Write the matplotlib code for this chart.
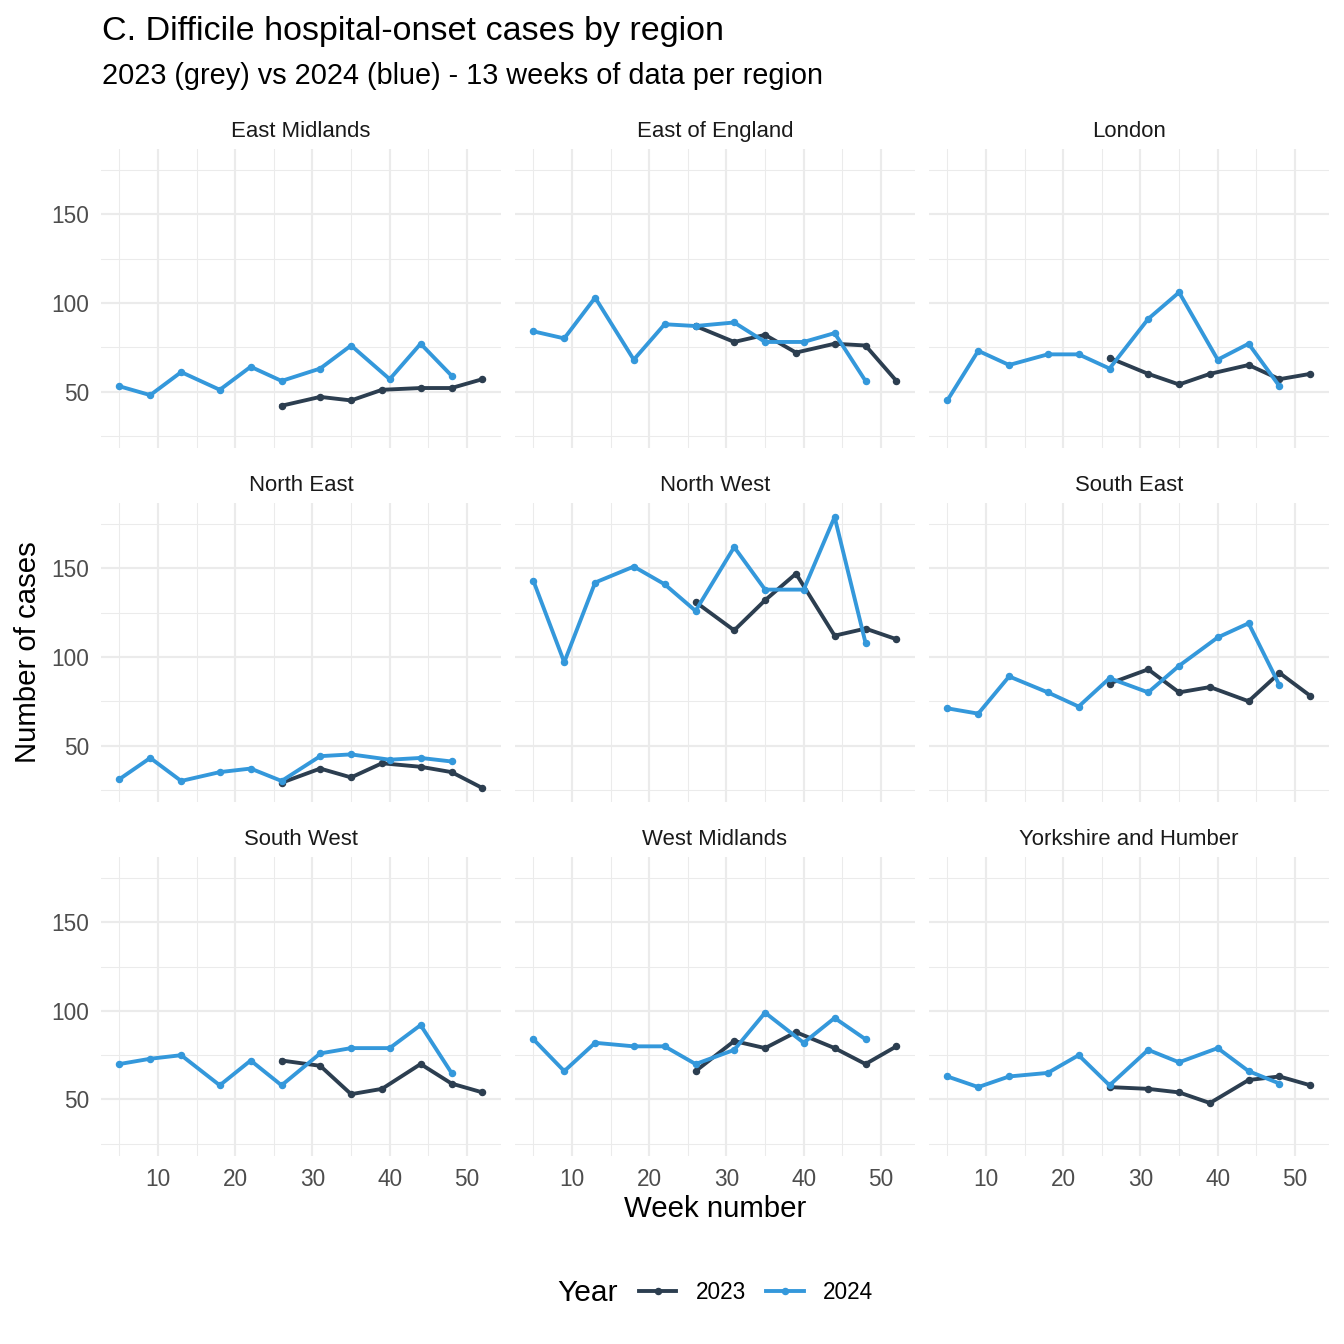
import pandas as pd
import numpy as np
import matplotlib
matplotlib.use("Agg")
import matplotlib.pyplot as plt
from matplotlib.ticker import MultipleLocator
from matplotlib.lines import Line2D

regions = ["East Midlands", "East of England", "London",
           "North East", "North West", "South East",
           "South West", "West Midlands", "Yorkshire and Humber"]

weeks_2024 = [5, 9, 13, 18, 22, 26, 31, 35, 40, 44, 48]
weeks_2023 = [26, 31, 35, 39, 44, 48, 52]

east_midlands_2024 = [53, 48, 61, 51, 64, 56, 63, 76, 57, 77, 59]
east_midlands_2023 = [42, 47, 45, 51, 52, 52, 57]
east_england_2024 = [84, 80, 103, 68, 88, 87, 89, 78, 78, 83, 56]
east_england_2023 = [87, 78, 82, 72, 77, 76, 56]
london_2024 = [45, 73, 65, 71, 71, 63, 91, 106, 68, 77, 53]
london_2023 = [69, 60, 54, 60, 65, 57, 60]
north_east_2024 = [31, 43, 30, 35, 37, 30, 44, 45, 42, 43, 41]
north_east_2023 = [29, 37, 32, 40, 38, 35, 26]
north_west_2024 = [143, 97, 142, 151, 141, 126, 162, 138, 138, 179, 108]
north_west_2023 = [131, 115, 132, 147, 112, 116, 110]
south_east_2024 = [71, 68, 89, 80, 72, 88, 80, 95, 111, 119, 84]
south_east_2023 = [85, 93, 80, 83, 75, 91, 78]
south_west_2024 = [70, 73, 75, 58, 72, 58, 76, 79, 79, 92, 65]
south_west_2023 = [72, 69, 53, 56, 70, 59, 54]
west_midlands_2024 = [84, 66, 82, 80, 80, 70, 78, 99, 82, 96, 84]
west_midlands_2023 = [66, 83, 79, 88, 79, 70, 80]
yorkshire_2024 = [63, 57, 63, 65, 75, 58, 78, 71, 79, 66, 59]
yorkshire_2023 = [57, 56, 54, 48, 61, 63, 58]

series_2024 = [east_midlands_2024, east_england_2024, london_2024,
               north_east_2024, north_west_2024, south_east_2024,
               south_west_2024, west_midlands_2024, yorkshire_2024]
series_2023 = [east_midlands_2023, east_england_2023, london_2023,
               north_east_2023, north_west_2023, south_east_2023,
               south_west_2023, west_midlands_2023, yorkshire_2023]

rows = []
for region, v23, v24 in zip(regions, series_2023, series_2024):
    for w, v in zip(weeks_2023, v23):
        rows.append((region, 2023, w, v))
    for w, v in zip(weeks_2024, v24):
        rows.append((region, 2024, w, v))
df = pd.DataFrame(rows, columns=["region", "year", "week", "cases"])

colors = {2023: "#2C3E50", 2024: "#3498DB"}
grid_col = "#EBEBEB"
tick_col = "#4D4D4D"

plt.rcParams["font.family"] = ["Liberation Sans", "DejaVu Sans"]

fig, axes = plt.subplots(3, 3, figsize=(14, 14), dpi=96, sharex=True, sharey=True)
fig.subplots_adjust(left=0.0753, right=0.9885, top=0.8888, bottom=0.1402,
                    wspace=0.0366, hspace=0.187)

for ax, region in zip(axes.flat, regions):
    sub = df[df.region == region]
    for year, grp in sub.groupby("year"):
        ax.plot(grp.week, grp.cases, color=colors[year], lw=2.9,
                marker="o", ms=4.6, zorder=3)
    ax.set_title(region, fontsize=16.6, color="#1A1A1A", pad=9)
    for s in ax.spines.values():
        s.set_visible(False)
    ax.xaxis.set_major_locator(MultipleLocator(10))
    ax.xaxis.set_minor_locator(MultipleLocator(5))
    ax.yaxis.set_major_locator(MultipleLocator(50))
    ax.yaxis.set_minor_locator(MultipleLocator(25))
    ax.grid(which="major", color=grid_col, lw=1.6)
    ax.grid(which="minor", color=grid_col, lw=0.8)
    ax.set_axisbelow(True)
    ax.tick_params(which="both", length=0, labelsize=17, labelcolor=tick_col, pad=9)

axes[0, 0].margins(x=0.05, y=0.05)
for ax in axes.flat:
    ax.label_outer()

fig.text(0.0759, 0.9762, "C. Difficile hospital-onset cases by region",
         fontsize=25.5, ha="left", va="center")
fig.text(0.0759, 0.9435, "2023 (grey) vs 2024 (blue) - 13 weeks of data per region",
         fontsize=21.7, ha="left", va="center")
fig.text(0.0208, 0.5145, "Number of cases", fontsize=22, rotation=90,
         ha="center", va="center")
fig.text(0.532, 0.1004, "Week number", fontsize=22, ha="center", va="center")

handles = [Line2D([], [], color=colors[y], lw=2.9, marker="o", ms=4.6) for y in (2023, 2024)]
fig.text(0.415, 0.038, "Year", fontsize=22.5, ha="left", va="center")
fig.legend(handles, ["2023", "2024"], loc="center", bbox_to_anchor=(0.5625, 0.038),
           ncol=2, frameon=False, fontsize=17, handlelength=1.65,
           handletextpad=0.85, columnspacing=0.9)

fig.savefig("out.png", dpi=96, facecolor="white")
